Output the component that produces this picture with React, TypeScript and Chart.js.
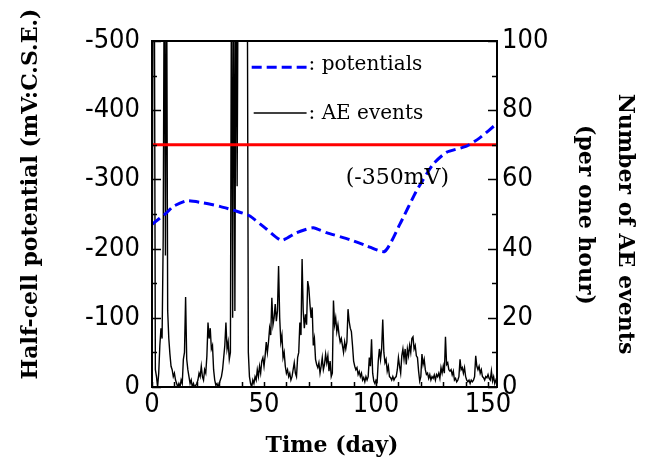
import React, { useEffect, useRef } from 'react';
import { Chart, registerables } from 'chart.js';

Chart.register(...registerables);

// AE events per hour, sampled every half day (day 0 .. 154)
const aeStepDays = 0.5;
const aeCounts = [
  2, 130, 130, 5, 3, 0, 4, 12, 17, 14, 43, 130, 38, 130, 22, 14, 9.5, 6, 5, 3,
  4, 2, 1, 0, 1, 0, 2, 1, 8, 10, 26,
  8, 5, 3, 1, 2, 0, 1, 0, 0.5, 1,
  2, 4, 3, 6, 3, 2, 5, 4, 9, 18.6,
  14, 17, 11, 12, 5, 2, 0.5, 1, 0, 1, 2,
  3, 5, 8.5, 12, 18.6, 11, 13, 8, 10, 130,
  20, 130, 22, 130, 58, 130, 130, 130, 130, 130, 130, 130, 130, 130,
  10, 3, 1, 0, 2, 1,
  3, 2, 5, 3, 6, 4, 7.5, 8.5, 6, 9, 13,
  10, 13, 17, 15, 25.8, 18, 20, 24, 19, 22,
  35, 20, 13, 15, 8.5, 10, 6, 4, 5, 3,
  4, 2, 3, 5, 7, 4, 3, 8.5, 10, 18.6,
  15, 37, 22, 17, 21, 18, 30.6, 28.7, 24, 20, 23,
  12, 14, 8, 6.5, 5.6, 7, 4, 6, 8.5, 5,
  6.5, 9.5, 7, 9, 4.6, 7.5, 3, 4, 25, 18,
  20, 16, 18, 15, 13, 14, 12, 10, 13, 11,
  13, 22.5, 19, 17, 16, 12, 7.5, 6, 5, 5.6, 3.6,
  4.5, 3, 4, 2, 2.7, 1.5, 3, 2, 3, 8.5,
  6, 13.8, 4, 1.7, 1, 2, 1.5, 7.5, 11, 8,
  11, 19.5, 10, 7, 8, 4.6, 6, 3, 2.7, 2,
  3, 2, 2.7, 3, 5, 8.5, 6, 4, 9, 11, 8,
  11, 6.5, 11, 9, 12, 10, 14, 14.5, 11, 12,
  9, 8.5, 4.6, 1.7, 3, 9.5, 6.5, 8, 5, 3.6,
  4, 2.5, 3.6, 2, 3, 2.5, 3.5, 2, 3.6, 3,
  4, 2.5, 5.6, 4, 6, 4, 14.5, 6.5, 7, 5, 4.6,
  5, 3.5, 4.6, 2, 2.5, 1.5, 2, 3, 8, 5,
  5.6, 4, 5.6, 3, 2, 1.5, 2, 1, 2, 1.5,
  2, 3, 9, 6, 5, 6, 4, 5, 3, 2.7,
  2, 3, 2.7, 3.6, 2.5, 2, 4.6, 1.7, 3, 1, 2, 1,
];

// Half-cell potential (mV vs C.S.E.)
const potentialDays = [0, 6.6, 9.5, 15.5, 22.9, 30.3, 37.8, 43.7, 51.2, 57.8, 64.5, 69, 72, 77.9, 88.3, 95.8, 103.9, 110.6, 118, 125.5, 131.4, 140.4, 146.3, 153.7];
const potentialValues = [-235, -252, -261, -269, -266, -261, -254, -247, -228, -212, -223, -228, -230, -223, -213, -204, -196, -235, -283, -322, -339, -348, -360, -380];

const thresholdDays = [0, 154];
const thresholdValues = [-350, -350];

const xMin = 0;
const xMax = 154;
const xMinorTicks = [0, 10, 20, 30, 40, 50, 60, 70, 80, 90, 100, 110, 120, 130, 140, 150];
const leftTicks = [0, -50, -100, -150, -200, -250, -300, -350, -400, -450, -500];
const rightTicks = [0, 10, 20, 30, 40, 50, 60, 70, 80, 90, 100];

const tickFamily = "'Liberation Sans Narrow', 'DejaVu Sans Condensed', 'Liberation Sans', sans-serif";
const serif = "'DejaVu Serif', 'Liberation Serif', serif";

const decorPlugin = {
  id: 'decor',
  afterDatasetsDraw(chart: any) {
    const { ctx, chartArea: a, scales } = chart;
    const xs = scales.x;
    const yl = scales.yL;
    const yr = scales.yR;
    ctx.save();
    // frame
    ctx.strokeStyle = '#000';
    ctx.lineWidth = 2;
    ctx.setLineDash([]);
    ctx.strokeRect(a.left, a.top, a.right - a.left, a.bottom - a.top);
    // inward ticks
    ctx.lineWidth = 1.5;
    ctx.beginPath();
    for (const v of xMinorTicks) {
      const px = Math.round(xs.getPixelForValue(v)) + 0.5;
      ctx.moveTo(px, a.bottom);
      ctx.lineTo(px, a.bottom - 5);
    }
    for (const v of leftTicks) {
      const py = Math.round(yl.getPixelForValue(v)) + 0.5;
      const len = v % 100 === 0 ? 9 : 5;
      ctx.moveTo(a.left, py);
      ctx.lineTo(a.left + len, py);
    }
    for (const v of rightTicks) {
      const py = Math.round(yr.getPixelForValue(v)) + 0.5;
      const len = v % 20 === 0 ? 9 : 5;
      ctx.moveTo(a.right, py);
      ctx.lineTo(a.right - len, py);
    }
    ctx.stroke();

    // legend inside plot
    const ly1 = yl.getPixelForValue(-462);
    const ly2 = yl.getPixelForValue(-396);
    const lx0 = xs.getPixelForValue(44.5);
    const lx1 = xs.getPixelForValue(69);
    ctx.strokeStyle = '#0000ff';
    ctx.lineWidth = 3;
    ctx.setLineDash([10, 5]);
    ctx.beginPath();
    ctx.moveTo(lx0, ly1);
    ctx.lineTo(lx1, ly1);
    ctx.stroke();
    ctx.setLineDash([]);
    ctx.strokeStyle = '#000';
    ctx.lineWidth = 1.5;
    ctx.beginPath();
    ctx.moveTo(lx0 + 2, ly2);
    ctx.lineTo(lx1, ly2);
    ctx.stroke();
    ctx.fillStyle = '#000';
    ctx.font = `20px ${serif}`;
    ctx.textAlign = 'left';
    ctx.textBaseline = 'middle';
    ctx.fillText(': potentials', lx1 + 2, ly1 - 2);
    ctx.fillText(': AE events', lx1 + 2, ly2 + 1);

    // threshold label
    ctx.font = `22px ${serif}`;
    ctx.textAlign = 'center';
    ctx.fillText('(-350mV)', xs.getPixelForValue(109.5), yl.getPixelForValue(-350) + 33);

    // axis titles
    ctx.font = `bold 22px ${serif}`;
    ctx.textBaseline = 'middle';
    ctx.textAlign = 'center';
    ctx.fillText('Time (day)', 332, 446);

    ctx.save();
    ctx.translate(31, 194);
    ctx.rotate(-Math.PI / 2);
    ctx.fillText('Half-cell potential (mV:C.S.E.)', 0, 0);
    ctx.restore();

    ctx.save();
    ctx.translate(625, 224);
    ctx.rotate(Math.PI / 2);
    ctx.fillText('Number of AE events', 0, 0);
    ctx.restore();

    ctx.save();
    ctx.translate(585, 215);
    ctx.rotate(Math.PI / 2);
    ctx.fillText('(per one hour)', 0, 0);
    ctx.restore();

    ctx.restore();
  },
};

export default function App() {
  const ref = useRef<HTMLCanvasElement>(null);

  useEffect(() => {
    document.body.style.margin = '0';
    const aePoints = aeCounts.map((v, i) => ({ x: i * aeStepDays, y: v }));
    const potPoints = potentialDays.map((d, i) => ({ x: d, y: potentialValues[i] }));
    const thrPoints = thresholdDays.map((d, i) => ({ x: d, y: thresholdValues[i] }));
    const tickFont = { family: tickFamily, size: 27 };

    const chart = new Chart(ref.current as HTMLCanvasElement, {
      type: 'line',
      data: {
        datasets: [
          {
            label: 'potentials',
            data: potPoints,
            yAxisID: 'yL',
            borderColor: '#0000ff',
            borderWidth: 3,
            borderDash: [10, 5],
            pointRadius: 0,
            tension: 0.2,
            order: 0,
          },
          {
            label: 'threshold',
            data: thrPoints,
            yAxisID: 'yL',
            borderColor: '#ff0000',
            borderWidth: 3,
            pointRadius: 0,
            order: 1,
          },
          {
            label: 'AE events',
            data: aePoints,
            yAxisID: 'yR',
            borderColor: '#000000',
            borderWidth: 1.4,
            pointRadius: 0,
            tension: 0,
            order: 2,
          },
        ],
      },
      options: {
        responsive: false,
        animation: false,
        devicePixelRatio: 1,
        layout: { padding: { top: 41, left: 0, right: 0, bottom: 0 } },
        plugins: {
          legend: { display: false },
          tooltip: { enabled: false },
        },
        scales: {
          x: {
            type: 'linear',
            position: 'bottom',
            min: xMin,
            max: xMax,
            grid: { display: false, drawTicks: false },
            border: { display: false },
            ticks: {
              stepSize: 50,
              includeBounds: false,
              padding: 2,
              color: '#000',
              font: tickFont,
              maxRotation: 0,
              callback: (v: any) => String(v),
            },
            afterFit: (s: any) => { s.height = 76; },
          },
          yL: {
            type: 'linear',
            position: 'left',
            min: -500,
            max: 0,
            reverse: true,
            grid: { display: false, drawTicks: false },
            border: { display: false },
            ticks: {
              stepSize: 100,
              padding: 12,
              color: '#000',
              font: tickFont,
              callback: (v: any) => String(v),
            },
            afterFit: (s: any) => { s.width = 152; },
          },
          yR: {
            type: 'linear',
            position: 'right',
            min: 0,
            max: 100,
            grid: { display: false, drawTicks: false },
            border: { display: false },
            ticks: {
              stepSize: 20,
              padding: 5,
              color: '#000',
              font: tickFont,
              callback: (v: any) => String(v),
            },
            afterFit: (s: any) => { s.width = 152; },
          },
        },
      },
      plugins: [decorPlugin],
    } as any);
    return () => chart.destroy();
  }, []);

  return (
    <canvas
      ref={ref}
      width={649}
      height={463}
      style={{ display: 'block', width: 649, height: 463 }}
    />
  );
}
